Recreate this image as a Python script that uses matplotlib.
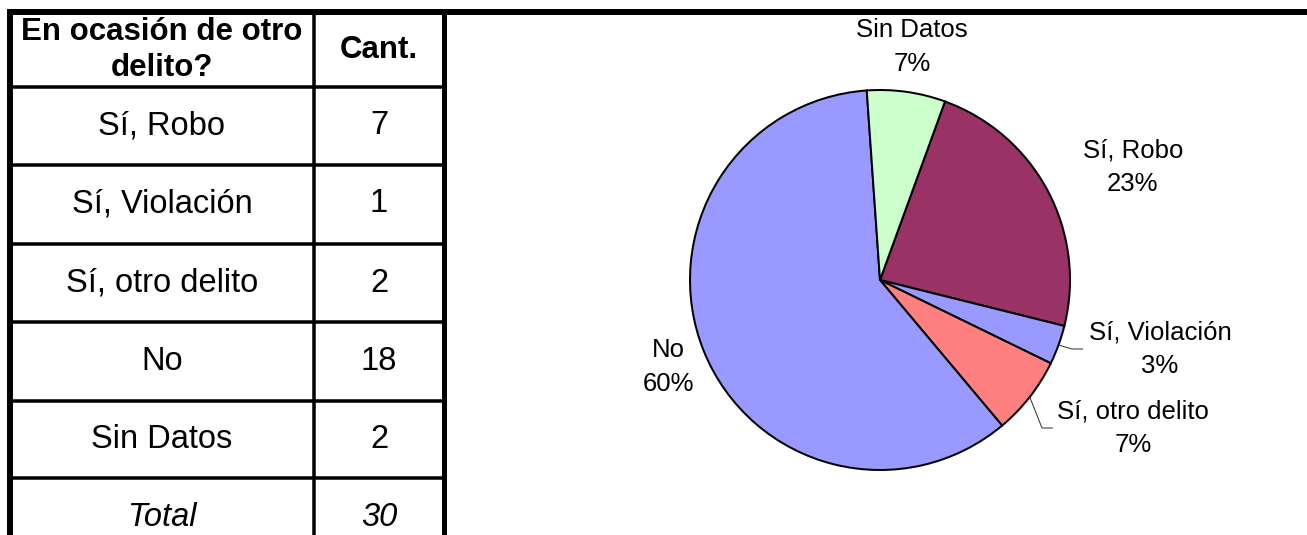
import numpy as np
import matplotlib.pyplot as plt

plt.rcParams['font.family'] = ['Liberation Sans', 'DejaVu Sans']

# data
categories = ['Sí, Robo', 'Sí, Violación', 'Sí, otro delito', 'No', 'Sin Datos']
counts = [7, 1, 2, 18, 2]
colors = ['#993366', '#9999FF', '#FF8080', '#9999FF', '#CCFFCC']
header = ['En ocasión de otro\ndelito?', 'Cant.']

W, H = 1307, 535
PX = 0.72  # points per pixel at dpi 100

fig = plt.figure(figsize=(W / 100, H / 100), dpi=100)
ax = fig.add_axes([0, 0, 1, 1])


def yy(y):
    # pixel row (from top) -> axis y
    return H - y


total = sum(counts)

# ---- pie ----
cx, cy, r = 880, yy(280), 190
wedges, _ = ax.pie(counts, colors=colors, startangle=70, counterclock=False,
                   center=(cx, cy), radius=r, frame=True,
                   wedgeprops=dict(edgecolor='black', linewidth=2 * PX))
ax.set_xlim(0, W)
ax.set_ylim(0, H)
ax.set_aspect('auto')
ax.axis('off')

label_pos = [(1133, 167), (1160, 349), (1133, 428), (668, 367), (912, 47)]
for cat, v, (lx, ly) in zip(categories, counts, label_pos):
    ax.text(lx, yy(ly), f'{cat}\n{round(100 * v / total)}%', ha='center', va='center',
            fontsize=18.5, linespacing=1.5)

# leader lines for the two small slices
for i, (ex, ey) in [(1, (1083, 349)), (2, (1053, 428))]:
    w = wedges[i]
    mid = np.deg2rad((w.theta1 + w.theta2) / 2)
    sx, sy = cx + r * np.cos(mid), cy + r * np.sin(mid)
    kx = ex - 11
    ax.plot([sx, kx, ex], [sy, yy(ey), yy(ey)], color='#333333', lw=1 * PX,
            solid_capstyle='butt')

# ---- table ----
xl, xm, xr = 10, 314, 444
rows_y = [87, 165, 244, 322, 401, 478]
row_h = 78

line_kw = dict(color='black', solid_capstyle='butt')
ax.plot([7, W], [yy(12), yy(12)], lw=6 * PX, **line_kw)
ax.plot([xl, xl], [yy(12), 0], lw=6 * PX, **line_kw)
ax.plot([xr, xr], [yy(12), 0], lw=5 * PX, **line_kw)
ax.plot([xm, xm], [yy(12), 0], lw=3.5 * PX, **line_kw)
for ry in rows_y:
    ax.plot([xl, xr], [yy(ry), yy(ry)], lw=3.5 * PX, **line_kw)

c1, c2 = (xl + xm) / 2, (xm + xr) / 2
ax.text(c1, yy(50), header[0], ha='center', va='center', fontsize=22.5,
        fontweight='bold', linespacing=1.25)
ax.text(c2, yy(50), header[1], ha='center', va='center', fontsize=22.5,
        fontweight='bold')

for k, (cat, v) in enumerate(zip(categories, counts)):
    ty = rows_y[k] + row_h / 2
    ax.text(c1, yy(ty), cat, ha='center', va='center', fontsize=23.5)
    ax.text(c2, yy(ty), str(v), ha='center', va='center', fontsize=23.5)

ty = rows_y[-1] + row_h / 2
ax.text(c1, yy(ty), 'Total', ha='center', va='center', fontsize=23.5, style='italic')
ax.text(c2, yy(ty), str(total), ha='center', va='center', fontsize=23.5, style='italic')

fig.savefig('out.png', dpi=100)
